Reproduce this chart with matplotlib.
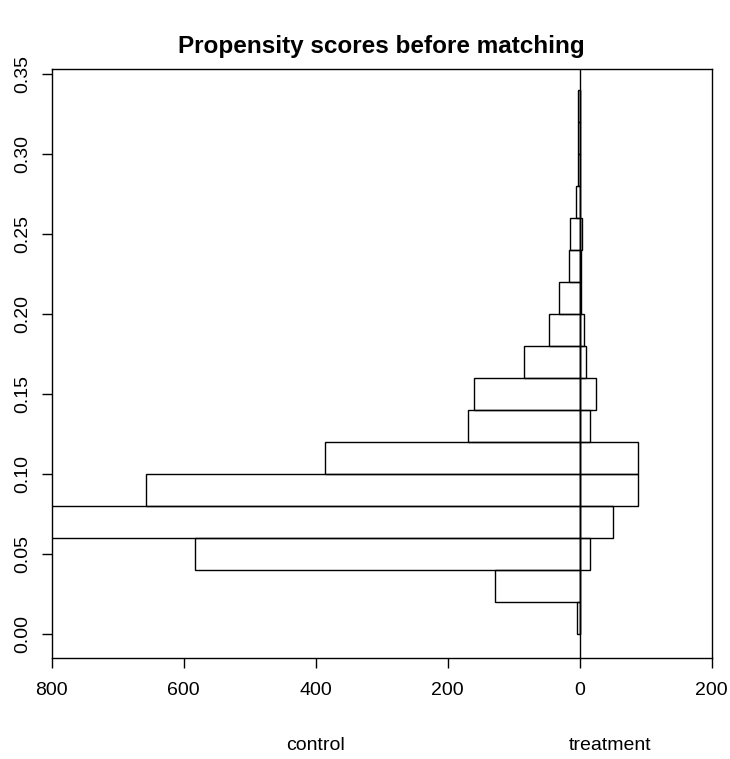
import numpy as np
import matplotlib
matplotlib.use("Agg")
import matplotlib.pyplot as plt

# Dados -----------------------------------------------------------------------
# bins de largura 0.02 (borda inferior de cada classe)
bin_inferior = [0.00, 0.02, 0.04, 0.06, 0.08, 0.10, 0.12, 0.14, 0.16,
                0.18, 0.20, 0.22, 0.24, 0.26, 0.28, 0.30, 0.32]
largura_bin = 0.02

# contagens do grupo controle (lado esquerdo)
controle = [4, 129, 583, 870, 657, 386, 170, 160, 85,
            47, 32, 16, 14, 6, 3, 3, 2]
# contagens do grupo tratamento (lado direito)
tratamento = [0, 0, 15, 50, 89, 89, 15, 25, 10,
              7, 2, 2, 3, 1, 0, 0, 0]

x_ticks = [-800, -600, -400, -200, 0, 200]
x_labels = ['800', '600', '400', '200', '0', '200']
y_ticks = [0.00, 0.05, 0.10, 0.15, 0.20, 0.25, 0.30, 0.35]
y_labels = ['0.00', '0.05', '0.10', '0.15', '0.20', '0.25', '0.30', '0.35']

titulo = 'Propensity scores before matching'
rotulo_controle = 'control'
rotulo_tratamento = 'treatment'

# Figura -----------------------------------------------------------------------
plt.rcParams['font.family'] = ['Liberation Sans', 'DejaVu Sans']

W, H = 730, 759
fig = plt.figure(figsize=(W / 100, H / 100), dpi=100)
ax = fig.add_axes([51.7 / W, 1 - 657.7 / H, 660 / W, (657.7 - 69.3) / H])

bins = np.array(bin_inferior)
ctrl = np.array(controle)
trat = np.array(tratamento)

# controle vai pra esquerda (valores negativos), tratamento pra direita
ax.barh(bins, ctrl, left=-ctrl, height=largura_bin, align='edge',
        fill=False, edgecolor='black', linewidth=1.0)
ax.barh(bins, trat, left=0, height=largura_bin, align='edge',
        fill=False, edgecolor='black', linewidth=1.0)
ax.axvline(0, color='black', linewidth=1.0)

ax.set_xlim(-800, 200)
ax.set_ylim(-0.0146, 0.3531)

ax.set_xticks(x_ticks)
ax.set_xticklabels(x_labels)
ax.set_yticks(y_ticks)
ax.set_yticklabels(y_labels, rotation=90, va='center')

ax.tick_params(axis='both', direction='out', length=7.5, width=1.0,
               labelsize=14, color='black')
ax.tick_params(axis='x', pad=10)
ax.tick_params(axis='y', pad=7)
for s in ax.spines.values():
    s.set_linewidth(1.0)
    s.set_color('black')

# titulo e rotulos dos grupos
fig.text(381.7 / W, 1 - 47 / H, titulo, ha='center', va='center',
         fontsize=17.5, fontweight='bold')
ax.text(-400, 0, rotulo_controle, transform=ax.get_xaxis_transform(),
        ha='center', va='center', fontsize=14)
ax.text(46, 0, rotulo_tratamento, transform=ax.get_xaxis_transform(),
        ha='center', va='center', fontsize=14)
# desloca os rotulos pra baixo do eixo (em pixels)
import matplotlib.transforms as mtransforms
for t in ax.texts:
    t.set_transform(t.get_transform() + mtransforms.ScaledTranslation(0, -(745 - 657.7) / 100, fig.dpi_scale_trans))

fig.savefig('out.png', dpi=100)
